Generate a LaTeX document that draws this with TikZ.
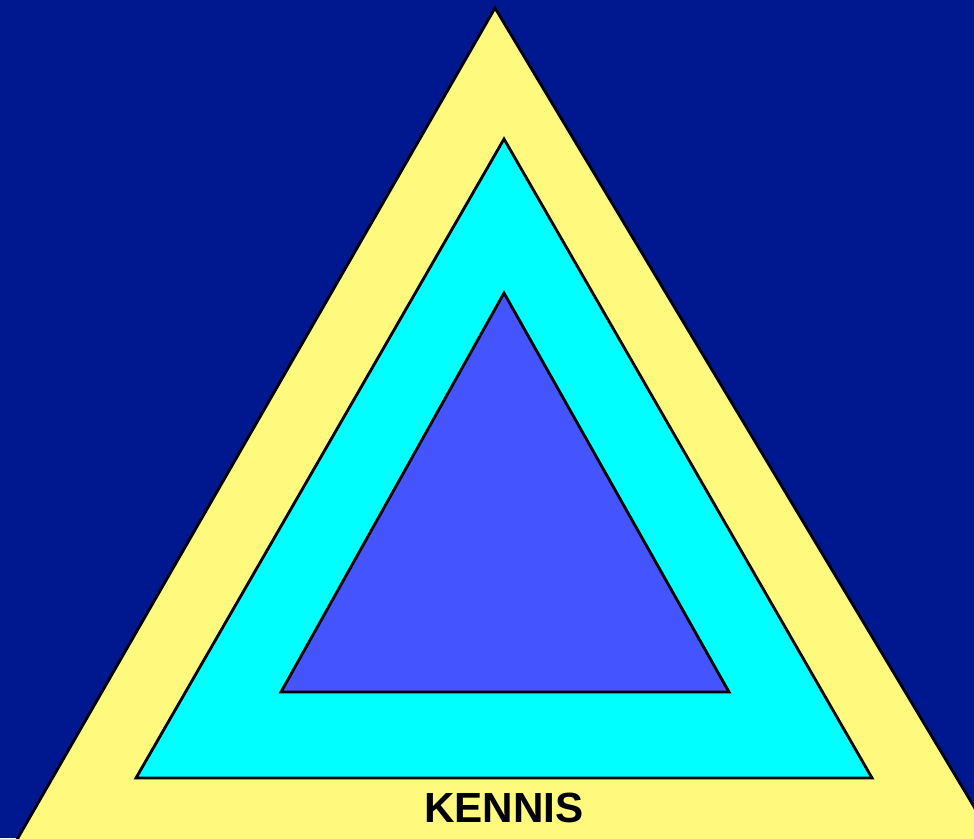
\documentclass[tikz,border=0pt]{standalone}
\usepackage{fontspec}
\setmainfont{Liberation Sans}
\usetikzlibrary{positioning}

\definecolor{bgblue}{RGB}{0,24,143}
\definecolor{layeryellow}{RGB}{255,250,125}
\definecolor{layercyan}{RGB}{0,255,255}
\definecolor{layerblue}{RGB}{68,85,255}

\begin{document}
\begin{tikzpicture}[
  x=0.01cm, y=-0.01cm,
  layer/.style={draw=black, line width=0.8pt, line join=miter},
  title/.style={font=\fontsize{12}{14}\selectfont\bfseries, text=black, inner sep=0pt}
]

% --- background, fixes the page size ---
\fill[bgblue] (0,0) rectangle (974,838);
\useasboundingbox (0,0) rectangle (974,838);
\clip (0,0) rectangle (974,838);

% --- outer layer (runs off the bottom edge) ---
\coordinate (oTop) at (495,8);
\coordinate (oLeft) at (11,850);
\coordinate (oRight) at (1000,850);
\draw[layer, fill=layeryellow] (oTop) -- (oLeft) -- (oRight) -- cycle;

% --- middle layer ---
\coordinate (mTop) at (504,139);
\coordinate (mLeft) at (136,778);
\coordinate (mRight) at (872,778);
\draw[layer, fill=layercyan] (mTop) -- (mLeft) -- (mRight) -- cycle;

% --- inner layer ---
\coordinate (iTop) at (504,293);
\coordinate (iLeft) at (281,692);
\coordinate (iRight) at (729,692);
\draw[layer, fill=layerblue] (iTop) -- (iLeft) -- (iRight) -- cycle;

\node[title] (kennis) at (504,808) {KENNIS};

\end{tikzpicture}
\end{document}
